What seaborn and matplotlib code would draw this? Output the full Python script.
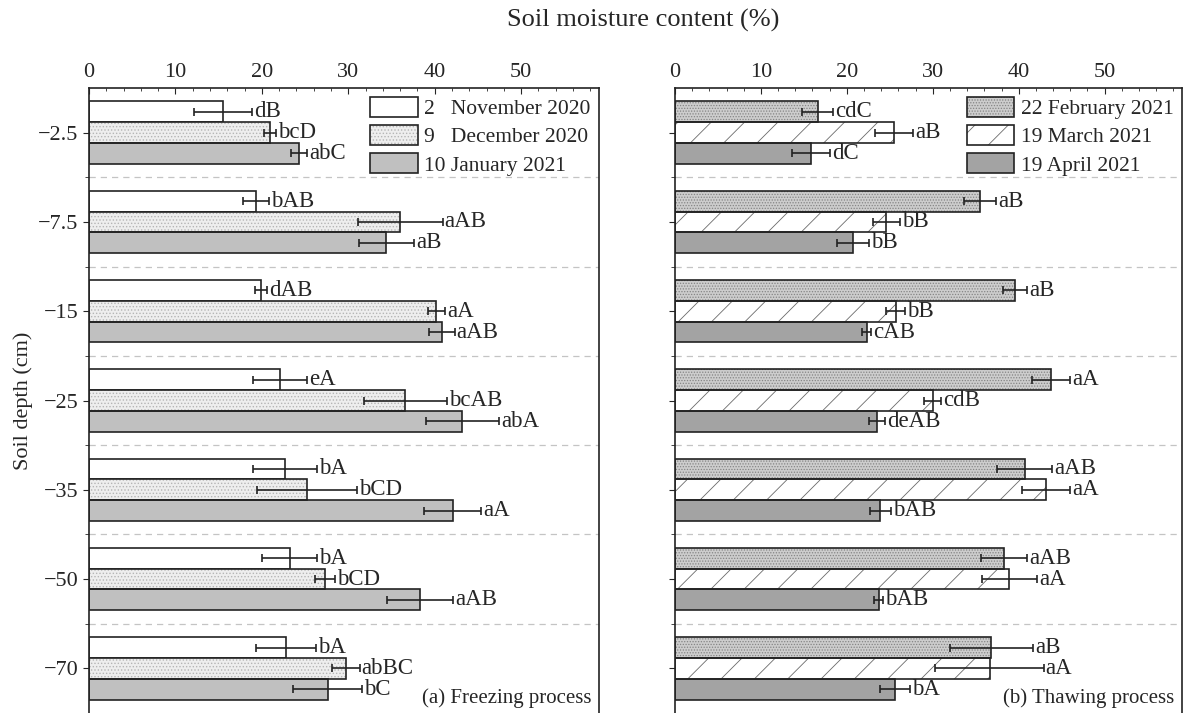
# soil moisture profiles during freezing and thawing

import matplotlib
matplotlib.use("Agg")
import matplotlib.pyplot as plt
import seaborn as sns
import pandas as pd
import numpy as np
from matplotlib.patches import Patch, Rectangle
from matplotlib.ticker import MultipleLocator, FixedLocator
from matplotlib.legend_handler import HandlerTuple

depths = ["−2.5", "−7.5", "−15", "−25", "−35", "−50", "−70"]

# (a) freezing process
freeze_dates = ["2   November 2020", "9   December 2020", "10 January 2021"]
nov_mean = [15.5, 19.3, 19.9, 22.1, 22.7, 23.2, 22.8]
nov_err = [3.4, 1.5, 0.65, 3.1, 3.7, 3.2, 3.5]
nov_lab = ["dB", "bAB", "dAB", "eA", "bA", "bA", "bA"]
dec_mean = [20.9, 36.0, 40.2, 36.6, 25.2, 27.3, 29.7]
dec_err = [0.7, 4.9, 1.0, 4.8, 5.8, 1.2, 1.6]
dec_lab = ["bcD", "aAB", "aA", "bcAB", "bCD", "bCD", "abBC"]
jan_mean = [24.3, 34.4, 40.8, 43.2, 42.1, 38.3, 27.6]
jan_err = [0.9, 3.2, 1.5, 4.2, 3.3, 3.8, 4.0]
jan_lab = ["abC", "aB", "aAB", "abA", "aA", "aAB", "bC"]

# (b) thawing process
thaw_dates = ["22 February 2021", "19 March 2021", "19 April 2021"]
feb_mean = [16.6, 35.5, 39.6, 43.8, 40.7, 38.3, 36.8]
feb_err = [1.8, 1.9, 1.4, 2.2, 3.2, 2.7, 4.85]
feb_lab = ["cdC", "aB", "aB", "aA", "aAB", "aAB", "aB"]
mar_mean = [25.5, 24.6, 25.7, 30.0, 43.2, 38.9, 36.6]
mar_err = [2.2, 1.6, 1.1, 1.0, 2.8, 3.2, 6.3]
mar_lab = ["aB", "bB", "bB", "cdB", "aA", "aA", "aA"]
apr_mean = [15.8, 20.7, 22.3, 23.5, 23.9, 23.7, 25.6]
apr_err = [2.2, 1.9, 0.5, 0.9, 1.2, 0.55, 1.7]
apr_lab = ["dC", "bB", "cAB", "deAB", "bAB", "bAB", "bA"]

# fill style per series: face colour, hatch, hatch colour
freeze_styles = [("white", None, None),
                 ("#eeeeee", ".....", "#b5b5b5"),
                 ("#c0c0c0", None, None)]
thaw_styles = [("#cdcdcd", "......", "#858585"),
               ("white", "/", "#6a6a6a"),
               ("#a3a3a3", None, None)]

sns.set_style("ticks")
plt.rcParams["font.family"] = ["Liberation Serif", "DejaVu Serif"]
plt.rcParams["hatch.linewidth"] = 0.6
EDGE = "#222222"
FS = 15


def draw_panel(ax, dates, means, errs, labels, styles, panel_text, show_ylabels):
    df = pd.DataFrame({
        "depth": depths * 3,
        "value": sum(means, []),
        "date": [d for d in dates for _ in depths],
    })
    sns.barplot(data=df, x="value", y="depth", hue="date", order=depths,
                hue_order=dates, orient="h", width=0.7, dodge=True,
                errorbar=None, legend=False, ax=ax)

    handles = []
    for cont, (face, hatch, hcol), vals, err, labs in zip(ax.containers, styles, means, errs, labels):
        for p in cont:
            p.set_facecolor(face)
            if hatch:
                # hatch colour follows edge colour, so outline is drawn on top
                p.set_hatch(hatch)
                p.set_edgecolor(hcol)
                p.set_linewidth(0)
                ax.add_patch(Rectangle(p.get_xy(), p.get_width(), p.get_height(),
                                       fill=False, edgecolor=EDGE, lw=1.2, zorder=p.get_zorder() + 0.1))
            else:
                p.set_edgecolor(EDGE)
                p.set_linewidth(1.2)
        centers = [p.get_y() + p.get_height() / 2 for p in cont]
        ax.errorbar(vals, centers, xerr=err, fmt="none", ecolor=EDGE,
                    elinewidth=1.2, capsize=3, capthick=1.2, zorder=5)
        for v, e, c, t in zip(vals, err, centers, labs):
            ax.annotate(t, (v + e, c), xytext=(1.5, 0), textcoords="offset points",
                        ha="left", va="center", fontsize=16.5)
        if hatch:
            h = (Patch(facecolor=face, edgecolor=hcol, hatch=hatch, lw=0),
                 Patch(fill=False, edgecolor=EDGE, lw=1.2))
        else:
            h = Patch(facecolor=face, edgecolor=EDGE, lw=1.2)
        handles.append(h)

    ax.legend(handles, dates, loc="upper right", frameon=False, fontsize=15.5,
              handlelength=2.2, handleheight=1.05, labelspacing=0.28,
              handletextpad=0.3, borderaxespad=0.1, borderpad=0.3,
              handler_map={tuple: HandlerTuple(ndivide=1, pad=0)})

    for b in np.arange(0.5, 6, 1):
        ax.axhline(b, color="#c4c4c4", ls=(0, (5, 4)), lw=0.9, zorder=0)

    ax.set_xlim(0, 59)
    ax.set_ylim(6.5, -0.5)
    ax.xaxis.tick_top()
    ax.set_xticks(range(0, 60, 10))
    ax.xaxis.set_minor_locator(MultipleLocator(2))
    ax.tick_params(axis="x", which="both", direction="in", top=True, bottom=False,
                   labelsize=16, pad=4)
    ax.tick_params(axis="x", which="major", length=4)
    ax.tick_params(axis="x", which="minor", length=2.5)
    ax.yaxis.set_minor_locator(FixedLocator(np.arange(0.5, 6, 1)))
    ax.tick_params(axis="y", which="both", direction="out", left=True, labelsize=16)
    ax.tick_params(axis="y", which="major", length=4)
    ax.tick_params(axis="y", which="minor", length=3)
    if not show_ylabels:
        ax.set_yticklabels([])
    ax.set_xlabel("")
    ax.set_ylabel("")
    for s in ax.spines.values():
        s.set_color(EDGE)
        s.set_linewidth(1.2)
    ax.spines["bottom"].set_visible(False)

    ax.text(0.985, 0.008, panel_text, transform=ax.transAxes, ha="right",
            va="bottom", fontsize=FS)


fig = plt.figure(figsize=(11.84, 7.13), dpi=100)
ax1 = fig.add_axes([89 / 1184, 0, 510 / 1184, 625 / 713])
ax2 = fig.add_axes([675 / 1184, 0, 507 / 1184, 625 / 713])

draw_panel(ax1, freeze_dates, [nov_mean, dec_mean, jan_mean], [nov_err, dec_err, jan_err],
           [nov_lab, dec_lab, jan_lab], freeze_styles, "(a) Freezing process", True)
draw_panel(ax2, thaw_dates, [feb_mean, mar_mean, apr_mean], [feb_err, mar_err, apr_err],
           [feb_lab, mar_lab, apr_lab], thaw_styles, "(b) Thawing process", False)

ax1.set_ylabel("Soil depth (cm)", fontsize=16, labelpad=4)
fig.text(643 / 1184, 1 - 20 / 713, "Soil moisture content (%)", ha="center",
         va="center", fontsize=19)

fig.savefig("out.png", dpi=100)
